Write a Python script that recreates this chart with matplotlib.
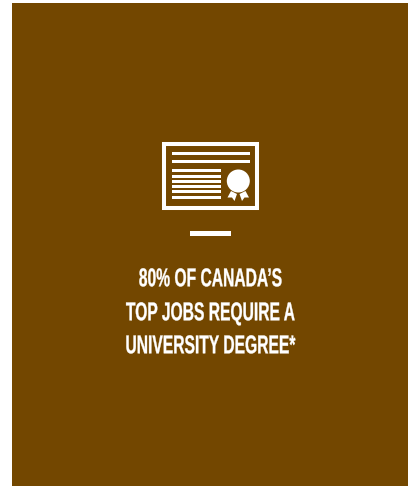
import matplotlib
matplotlib.use("Agg")
import matplotlib.pyplot as plt
import matplotlib.patheffects as pe
from matplotlib.patches import Rectangle, Circle, Polygon
from matplotlib.transforms import Affine2D

text_lines = ["80% OF CANADA\u2019S", "TOP JOBS REQUIRE A", "UNIVERSITY DEGREE*"]
text_baselines = [286.3, 320.3, 353.3]
long_rules_y = [153.3, 161.5]
short_rules_y = [170.3, 176.3, 181.7, 186.3, 191.3, 197.3]
BROWN = "#734700"


class Squeeze(pe.AbstractPathEffect):
    """Condense real text horizontally about a pixel column."""

    def __init__(self, sx, cx, stroke):
        super().__init__()
        self.sx, self.cx, self.stroke = sx, cx, stroke

    def draw_path(self, renderer, gc, tpath, affine, rgbFace=None):
        squeezed = affine + Affine2D().translate(-self.cx, 0).scale(self.sx, 1).translate(self.cx, 0)
        gc0 = renderer.new_gc()
        gc0.copy_properties(gc)
        gc0.set_linewidth(self.stroke)
        gc0.set_foreground("white")
        renderer.draw_path(gc0, tpath, squeezed, rgbFace)
        gc0.restore()


fig = plt.figure(figsize=(4.08, 4.86), dpi=100, facecolor="white")
ax = fig.add_axes([0, 0, 1, 1])
ax.set_xlim(0, 408)
ax.set_ylim(486, 0)
ax.axis("off")

ax.add_patch(Rectangle((12, 3), 396, 483, fc=BROWN, ec="none"))
ax.add_patch(Rectangle((163.7, 143.7), 93.3, 64.3, fc="none", ec="white", lw=2.9, joinstyle="miter"))
for y in long_rules_y:
    ax.add_patch(Rectangle((172, y - 1.5), 78, 3, fc="white", ec="none"))
for y in short_rules_y:
    ax.add_patch(Rectangle((172, y - 1.5), 49, 3, fc="white", ec="none"))
ax.add_patch(Circle((238.3, 181), 11.5, fc="white", ec="none"))
ax.add_patch(Polygon([(231, 191), (237, 194), (234.5, 201), (232, 197.5), (227.5, 197.5)], fc="white", ec="none"))
ax.add_patch(Polygon([(245.5, 191), (239.5, 194), (242, 201), (244.5, 197.5), (249, 197.5)], fc="white", ec="none"))
ax.add_patch(Rectangle((190, 231), 41, 5, fc="white", ec="none"))

for line, y in zip(text_lines, text_baselines):
    ax.text(210.5, y, line, color="white", ha="center", va="baseline",
            family="Liberation Sans", fontsize=18.6, fontweight="bold",
            path_effects=[Squeeze(0.605, 210.5, 0.25)])

fig.savefig("out.png", dpi=100, facecolor="white")
